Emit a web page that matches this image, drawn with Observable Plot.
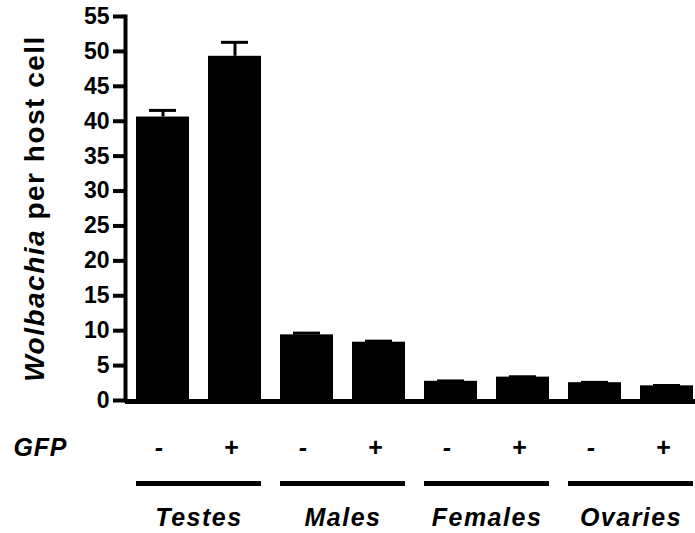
<!DOCTYPE html>
<html><head><meta charset="utf-8">
<script src="https://cdn.jsdelivr.net/npm/d3@7"></script>
<script src="https://cdn.jsdelivr.net/npm/@observablehq/plot@0.6"></script>
<style>body{margin:0;background:#fff} svg{display:block}</style>
</head><body><div id="chart"></div>
<script>
const tissues = ["Testes","Testes","Males","Males","Females","Females","Ovaries","Ovaries"];
const gfpSigns = ["-","+","-","+","-","+","-","+"];
const values = [40.6, 49.3, 9.4, 8.35, 2.75, 3.35, 2.55, 2.1];
const errors = [0.95, 2.0, 0.25, 0.15, 0.05, 0.05, 0.05, 0.05];
const groups = ["Testes","Males","Females","Ovaries"];
const yTicks = [0,5,10,15,20,25,30,35,40,45,50,55];
const yLabelItalic = "Wolbachia";
const yLabelRest = " per host cell";
const gfpLabel = "GFP";

const data = tissues.map((t,i)=>({key: t + " " + gfpSigns[i], tissue: t, gfp: gfpSigns[i], value: values[i], err: errors[i]}));
const groupData = groups.map(g => ({group: g, first: g + " -", last: g + " +"}));
const font = "'Liberation Sans', Arial, Helvetica, sans-serif";

const chart = Plot.plot({
  width: 695, height: 533,
  marginLeft: 125, marginRight: 0, marginTop: 16, marginBottom: 133,
  style: {fontFamily: font, fontWeight: "bold", color: "#000", background: "#fff", overflow: "visible"},
  x: {domain: data.map(d => d.key), paddingInner: 0.2639, paddingOuter: 0.085, align: 0.846, round: true, axis: null},
  y: {domain: [0, 55], axis: null},
  marks: [
    Plot.barY(data, {x: "key", y: "value", fill: "#000"}),
    Plot.ruleX(data, {x: "key", y1: "value", y2: d => d.value + d.err, stroke: "#000", strokeWidth: 3}),
    Plot.tickY(data, {x: "key", y: d => d.value + d.err, stroke: "#000", strokeWidth: 3, insetLeft: 13, insetRight: 13}),
    Plot.axisY({ticks: yTicks, tickSize: 12, tickPadding: 4, strokeWidth: 4, fontSize: 23, fontWeight: "bold", label: null}),
    Plot.frame({anchor: "left", stroke: "#000", strokeWidth: 4}),
    Plot.ruleY([0], {stroke: "#000", strokeWidth: 5, dy: 1}),
    Plot.text(data, {x: "key", text: "gfp", frameAnchor: "bottom", lineAnchor: "bottom", dy: 55, dx: -4,
      fontSize: 25, fontStyle: "italic", fontWeight: "bold"}),
    Plot.text([gfpLabel], {text: d => d, frameAnchor: "bottom-left", textAnchor: "start", lineAnchor: "bottom",
      dx: -112, dy: 55, fontSize: 25, fontStyle: "italic", fontWeight: "bold"}),
    Plot.ruleY(groupData, {x1: "first", x2: "last", y: 0, dy: 83, stroke: "#000", strokeWidth: 5}),
    Plot.text(groupData, {x: "first", text: "group", dx: 36, frameAnchor: "bottom", lineAnchor: "bottom", dy: 125,
      fontSize: 25, fontStyle: "italic", fontWeight: "bold"}),
    Plot.text([yLabelItalic + yLabelRest], {text: d => d, frameAnchor: "left", textAnchor: "middle", rotate: -90, dx: -90, dy: 0,
      fontSize: 28, fontWeight: "bold"})
  ]
});
const ns = "http://www.w3.org/2000/svg";
chart.querySelectorAll("text").forEach(t => {
  const s = t.textContent;
  if (s === yLabelItalic + yLabelRest) {
    t.textContent = "";
    const a = document.createElementNS(ns, "tspan");
    a.setAttribute("font-style", "italic");
    a.textContent = yLabelItalic;
    const b = document.createElementNS(ns, "tspan");
    b.textContent = yLabelRest;
    t.appendChild(a); t.appendChild(b);
    t.style.letterSpacing = "1.5px";
  } else if (groups.includes(s)) {
    t.style.letterSpacing = "1.5px";
  } else if (s === gfpLabel) {
    t.style.letterSpacing = "0.8px";
  }
});
document.getElementById("chart").appendChild(chart);
</script>
</body></html>
